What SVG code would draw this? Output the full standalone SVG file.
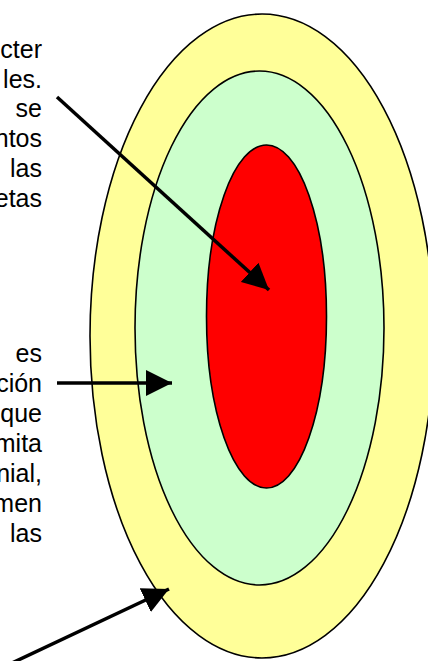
<svg xmlns="http://www.w3.org/2000/svg" width="428" height="661" viewBox="0 0 428 661">
<defs>
<style>
.ring{stroke:#000;stroke-width:1.6}
.t{font-family:"Liberation Sans",Arial,sans-serif;font-size:25px;fill:#000;text-anchor:end}
.ln{stroke:#000;stroke-width:3.5;fill:none}
</style>
<marker id="ah" viewBox="0 0 10 10" refX="10" refY="5" markerWidth="7.5" markerHeight="7.5" markerUnits="strokeWidth" orient="auto">
<path d="M0,0 L10,5 L0,10 Z" fill="#000"/>
</marker>
</defs>
<g id="outer"><ellipse class="ring" cx="262" cy="336" rx="172" ry="322" fill="#FFFF99"/></g>
<g id="middle"><ellipse class="ring" cx="259.5" cy="328" rx="124.5" ry="257" fill="#CCFFCC"/></g>
<g id="core"><ellipse class="ring" cx="266.5" cy="316.5" rx="60" ry="171.5" fill="#FF0000"/></g>
<g id="text1" class="t">
<text x="42" y="58">cter</text>
<text x="42" y="88">les.</text>
<text x="42" y="117">se</text>
<text x="42" y="147">ntos</text>
<text x="42" y="177">las</text>
<text x="42" y="207">etas</text>
</g>
<g id="text2" class="t">
<text x="42" y="362">es</text>
<text x="42" y="392">ción</text>
<text x="42" y="422">que</text>
<text x="42" y="452">mita</text>
<text x="42" y="482">nial,</text>
<text x="42" y="512">men</text>
<text x="42" y="542">las</text>
</g>
<g id="connectors">
<line class="ln" x1="57" y1="97" x2="269" y2="290" marker-end="url(#ah)"/>
<line class="ln" x1="57" y1="383" x2="172" y2="383" marker-end="url(#ah)"/>
<line class="ln" x1="12" y1="663" x2="169" y2="589" marker-end="url(#ah)"/>
</g>
</svg>
